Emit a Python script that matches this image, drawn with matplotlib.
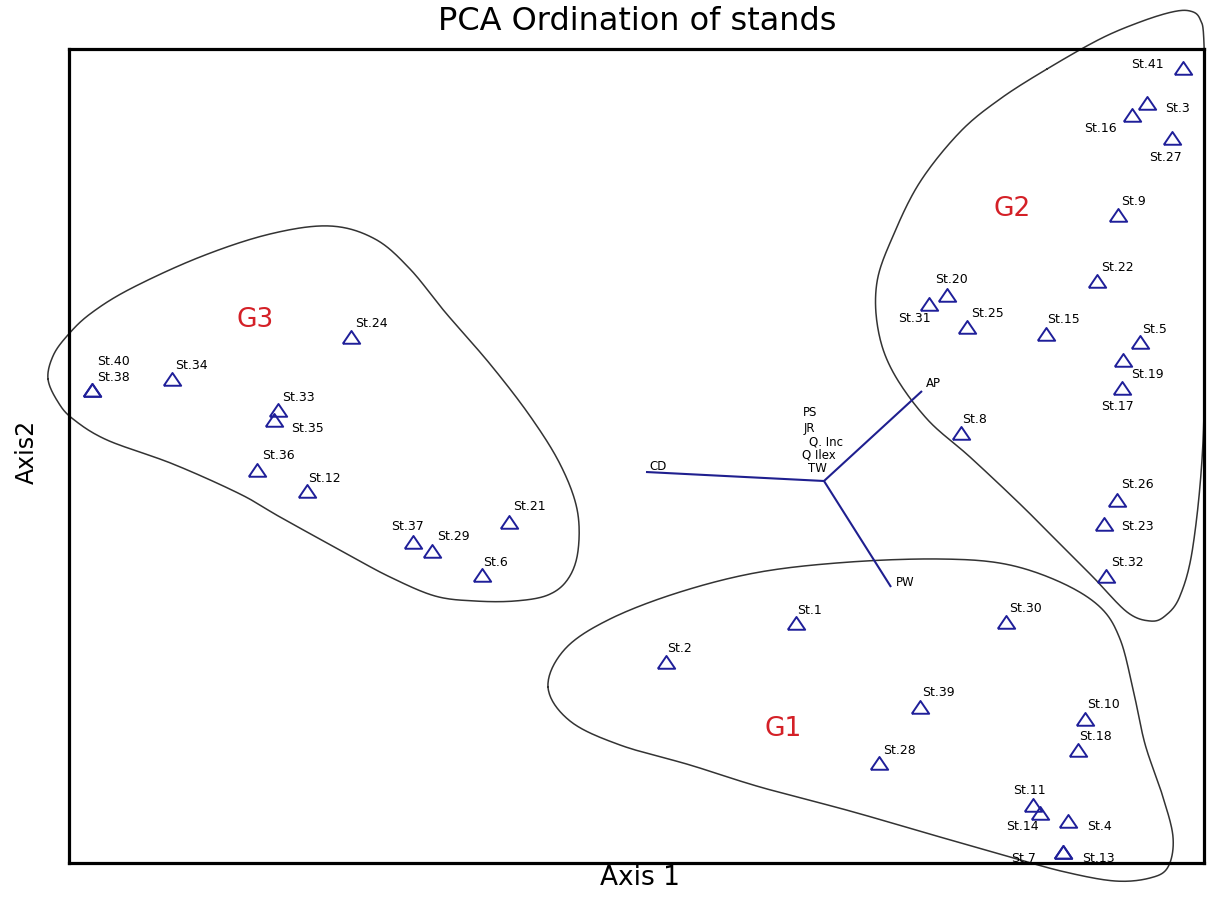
import numpy as np
import matplotlib
matplotlib.use("Agg")
import matplotlib.pyplot as plt

plt.rcParams['font.family'] = ['DejaVu Sans']

# ---------------- data (scores, image-pixel units) ----
stations = ["St.41", "St.3", "St.16", "St.27", "St.9", "St.22", "St.20", "St.31",
            "St.25", "St.15", "St.5", "St.19", "St.17", "St.8", "St.26", "St.23",
            "St.32", "St.30", "St.40", "St.38", "St.34", "St.33", "St.35", "St.36",
            "St.12", "St.24", "St.21", "St.37", "St.29", "St.6", "St.1", "St.2",
            "St.28", "St.39", "St.10", "St.18", "St.11", "St.14", "St.4", "St.7",
            "St.13"]
axis1 = [1183, 1147, 1132, 1172, 1118, 1097, 947, 929,
         967, 1046, 1140, 1123, 1122, 961, 1117, 1104,
         1106, 1006, 92, 92, 172, 278, 274, 257,
         307, 351, 509, 413, 432, 482, 796, 666,
         879, 920, 1085, 1078, 1033, 1040, 1068, 1063,
         1063]
axis2 = [69, 104, 116, 139, 216, 282, 296, 305,
         328, 335, 343, 361, 389, 434, 501, 525,
         577, 623, 391, 391, 380, 411, 421, 471,
         492, 338, 523, 543, 552, 576, 624, 663,
         764, 708, 720, 751, 806, 814, 822, 853,
         853]

# variable vectors (biplot)
variables = ["CD", "AP", "PW", "PS", "JR", "Q. Inc", "Q Ilex", "TW"]
origin = (824, 482)
var_axis1 = [646, 922, 891, 824, 824, 824, 824, 824]
var_axis2 = [473, 392, 588, 482, 482, 482, 482, 482]

# group outlines
groups = ["G1", "G2", "G3"]
g1_x = [548, 565, 610, 680, 760, 850, 940, 1005, 1060, 1100, 1120, 1133, 1145,
        1162, 1173, 1168, 1150, 1115, 1065, 1010, 940, 850, 760, 690, 620, 570]
g1_y = [688, 650, 620, 593, 573, 563, 560, 565, 583, 608, 640, 690, 745,
        795, 838, 868, 879, 882, 873, 858, 838, 812, 788, 766, 746, 722]
g2_x = [1047, 1100, 1140, 1172, 1190, 1200, 1204, 1205, 1205, 1203, 1193, 1180, 1165,
        1150, 1127, 1093, 1060, 1020, 970, 927, 893, 878, 877, 893, 920, 960, 1000]
g2_y = [70, 40, 23, 13, 12, 20, 45, 150, 300, 443, 547, 597, 617,
        622, 613, 578, 545, 505, 458, 420, 373, 330, 283, 237, 183, 133, 100]
g3_x = [48, 53, 67, 90, 130, 200, 270, 330, 375, 410, 445, 490, 530, 560, 577, 578,
        568, 548, 515, 475, 435, 390, 347, 280, 240, 173, 107, 73, 58]
g3_y = [380, 357, 337, 315, 290, 258, 235, 227, 240, 270, 313, 365, 417, 465, 510, 552,
        580, 596, 602, 602, 597, 578, 555, 518, 495, 465, 441, 420, 403]
group_label_pos = {"G1": (783, 729), "G2": (1012, 209), "G3": (255, 320)}

# label offsets (pixels: right, down)
label_off = [(-36, -5), (30, 4), (-32, 12), (-6, 18), (16, -15), (20, -15), (4, -17), (-15, 13),
             (21, -15), (18, -16), (15, -14), (24, 13), (-5, 17), (14, -15), (20, -17), (33, 2),
             (21, -14), (20, -14), (21, -30), (21, -14), (19, -15), (20, -14), (33, 7), (21, -16),
             (17, -14), (20, -15), (20, -16), (-6, -17), (21, -15), (14, -14), (14, -14), (14, -14),
             (21, -14), (18, -15), (18, -15), (18, -15), (-4, -15), (-18, 13), (31, 5), (-39, 5),
             (35, 5)]
var_label_pos = [(658, 466), (933, 383), (905, 583), (810, 412), (809, 428), (826, 442),
                 (819, 455), (817, 468)]

# ---------------- drawing ----------------
W, H = 1207, 903
fig = plt.figure(figsize=(W / 100, H / 100), dpi=100)
x0, x1, y0, y1 = 69, 1204, 50, 864
ax = fig.add_axes([x0 / W, (H - y1) / H, (x1 - x0) / W, (y1 - y0) / H])
ax.set_xlim(x0, x1)
ax.set_ylim(y1, y0)
ax.set_xticks([])
ax.set_yticks([])
for s in ax.spines.values():
    s.set_linewidth(2.3)
    s.set_color('black')


def catmull_closed(xs, ys, n=20):
    P = np.column_stack([xs, ys]).astype(float)
    m = len(P)
    out = []
    t = np.linspace(0, 1, n, endpoint=False)[:, None]
    for i in range(m):
        p0, p1, p2, p3 = P[i - 1], P[i], P[(i + 1) % m], P[(i + 2) % m]
        seg = 0.5 * ((2 * p1) + (-p0 + p2) * t + (2 * p0 - 5 * p1 + 4 * p2 - p3) * t ** 2
                     + (-p0 + 3 * p1 - 3 * p2 + p3) * t ** 3)
        out.append(seg)
    out = np.vstack(out)
    return np.vstack([out, out[:1]])


for gx, gy in [(g1_x, g1_y), (g2_x, g2_y), (g3_x, g3_y)]:
    c = catmull_closed(gx, gy)
    ax.plot(c[:, 0], c[:, 1], color='#333333', lw=1.1, clip_on=False, zorder=2)

for g in groups:
    gx, gy = group_label_pos[g]
    ax.text(gx, gy, g, color='#d42027', fontsize=19, ha='center', va='center', zorder=4)

# biplot vectors
for name, vx, vy, (lx, ly) in zip(variables, var_axis1, var_axis2, var_label_pos):
    ax.plot([origin[0], vx], [origin[1], vy], color='#1f1f8f', lw=1.5, zorder=3,
            solid_capstyle='butt')
    ax.text(lx, ly, name, fontsize=8.5, ha='center', va='center', color='black', zorder=4)

# station points
tri = [(-1, -0.72), (1, -0.72), (0, 0.75), (-1, -0.72)]
ax.plot(axis1, axis2, linestyle='none', marker=tri, markersize=12.5,
        markerfacecolor='none', markeredgecolor='#1f1f99', markeredgewidth=1.4, zorder=5)

for name, px, py, (dx, dy) in zip(stations, axis1, axis2, label_off):
    ax.annotate(name, (px, py), xytext=(dx, -dy), textcoords='offset pixels',
                ha='center', va='center', fontsize=9, color='black', zorder=6)

fig.text(637 / W, 1 - 22 / H, "PCA Ordination of stands", ha='center', va='center',
         fontsize=23)
fig.text(640 / W, 1 - 878 / H, "Axis 1", ha='center', va='center', fontsize=19)
fig.text(27 / W, 1 - 452 / H, "Axis2", ha='center', va='center', fontsize=17,
         rotation=90)

fig.savefig("out.png", dpi=100)
